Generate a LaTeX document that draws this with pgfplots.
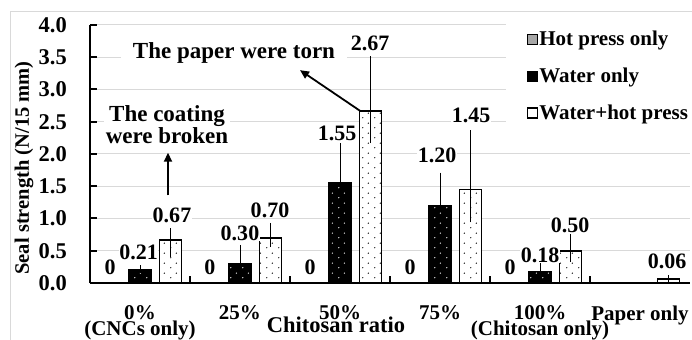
\documentclass[border=0pt]{standalone}
\usepackage{fontspec}
\setmainfont{Liberation Serif}
\usepackage{pgfplots}
\pgfplotsset{compat=1.18}
\usetikzlibrary{patterns,arrows.meta}
\pgfdeclarepatternformonly{sparsedots}{\pgfqpoint{0bp}{0bp}}{\pgfqpoint{12bp}{10bp}}{\pgfqpoint{12bp}{10bp}}{%
 \pgfpathcircle{\pgfqpoint{3bp}{2.5bp}}{0.75bp}%
 \pgfpathcircle{\pgfqpoint{9bp}{7.5bp}}{0.75bp}%
 \pgfusepath{fill}}
\newcommand\cf{\bfseries\fontsize{21bp}{18bp}\selectfont}
\newcommand\kf{\bfseries\fontsize{21bp}{18bp}\selectfont}
\newcommand\tf{\bfseries\fontsize{22.5bp}{18bp}\selectfont}
\newcommand\vf{\bfseries\fontsize{22bp}{18bp}\selectfont}
\newcommand\af{\bfseries\fontsize{23bp}{16.5bp}\selectfont}
\newcommand\yf{\bfseries\fontsize{20.5bp}{18bp}\selectfont}
\newcommand\xf{\bfseries\fontsize{22.5bp}{18bp}\selectfont}
\newcommand\twoline[2]{\setbox0\hbox{#1}\rlap{\hbox to \wd0{\hss\raisebox{-16bp}[0pt][0pt]{#2}\hss}}\box0}
\definecolor{gridc}{RGB}{217,217,217}
\definecolor{hotp}{RGB}{166,166,166}
\begin{document}
\begin{tikzpicture}
\useasboundingbox (0,0) rectangle (692bp,340bp);
\draw[gridc, line width=1bp] (10bp,-10bp) rectangle (710bp,328bp);
\begin{axis}[
 at={(90bp,57bp)}, anchor=south west,
 scale only axis, width=600bp, height=258bp,
 xmin=-0.5, xmax=5.5, ymin=0, ymax=4,
 clip=false,
 axis x line*=bottom, axis y line*=left,
 axis line style={line width=2bp, black},
 tick align=inside, major tick length=6.5bp,
 tick style={line width=2bp, black},
 xtick={0.5,1.5,2.5,3.5,4.5}, xticklabels={},
 extra x ticks={0,1,2,3,4,5},
 extra x tick labels={{\twoline{0\%}{(CNCs only)}},{25\%},{50\%},{75\%},{\twoline{100\%}{(Chitosan only)}},{Paper only}},
 extra x tick style={tick style={draw=none}},
 ytick={0,0.5,1,1.5,2,2.5,3,3.5,4},
 yticklabels={0.0,0.5,1.0,1.5,2.0,2.5,3.0,3.5,4.0},
 ymajorgrids, grid style={gridc, line width=1bp},
 xticklabel style={font=\kf, anchor=north, inner sep=0bp, yshift=-22.5bp},
 yticklabel style={font=\tf, anchor=east, inner sep=0bp, xshift=-23bp},
 ylabel={Seal strength (N/15 mm)},
 ylabel style={font=\yf, at={(axis description cs:-0.11,0.446)}, anchor=center},
 xlabel={Chitosan ratio},
 xlabel style={font=\xf, at={(axis description cs:0.41,-0.163)}, anchor=center},
 legend image code/.code={\draw[#1] (0bp,-5bp) rectangle (10bp,5bp);},
 legend style={at={(axis description cs:0.693,1.005)}, anchor=north west, draw=none, fill=white,
   inner xsep=21bp, inner ysep=6bp, row sep=19bp, font=\cf, nodes={inner sep=1bp}},
 legend cell align=left,
]
% Water only
\addplot[ybar, bar width=0.22, bar shift=0pt, fill=black, draw=black, line width=1.5bp,
  postaction={pattern=sparsedots, pattern color=white}, forget plot,
  error bars/.cd, y dir=plus, y explicit,
  error bar style={line width=1bp, black},
  error mark options={black, line width=1bp, mark size=4bp}]
coordinates {
 (0,0.21) += (0,0.0)
 (1,0.30) += (0,0.23)
 (2,1.55) += (0,0.56)
 (3,1.20) += (0,0.45)
 (4,0.18) += (0,0.08)
};
% Water + hot press
\addplot[ybar, bar width=0.22, bar shift=0pt, fill=white, draw=black, line width=1.8bp,
  postaction={pattern=sparsedots, pattern color=black}, forget plot,
  error bars/.cd, y dir=both, y explicit,
  error bar style={line width=1bp, black},
  error mark options={black, line width=1bp, mark size=4bp}]
coordinates {
 (0.305,0.67) += (0,0.12) -= (0,0.20)
 (1.305,0.70) += (0,0.17) -= (0,0.08)
 (2.305,2.67) += (0,0.78) -= (0,0.44)
 (3.305,1.45) += (0,0.86) -= (0,0.45)
 (4.305,0.50) += (0,0.20) -= (0,0.11)
 (5.285,0.06) += (0,0.0) -= (0,0.0)
};
% value labels
\addplot[draw=none, mark=none, forget plot, nodes near coords, point meta=explicit symbolic,
  every node near coord/.style={anchor=center, fill=white, inner sep=0.5bp, font=\vf}]
coordinates {
 (-0.3,0.248) [0] (-0.015,0.48) [0.21] (0.32,1.054) [0.67]
 (0.7,0.248) [0] (1.0,0.775) [0.30] (1.3,1.13) [0.70]
 (1.7,0.248) [0] (1.97,2.326) [1.55] (2.3,3.72) [2.67]
 (2.7,0.248) [0] (2.97,1.985) [1.20] (3.31,2.605) [1.45]
 (3.7,0.248) [0] (4.0,0.434) [0.18] (4.3,0.90) [0.50]
 (5.27,0.341) [0.06]
};
\addlegendimage{fill=hotp, draw=none}
\addlegendentry{Hot press only}
\addlegendimage{fill=black, draw=black}
\addlegendentry{Water only}
\addlegendimage{fill=white, draw=black, line width=1.3bp}
\addlegendentry{Water+hot press}
% annotations
\node[fill=white, align=center, font=\af, inner xsep=2bp, inner ysep=1bp] at (axis cs:0.27,2.45) {The coating\\were broken};
\draw[line width=1.8bp, -{Triangle[length=9bp,width=8bp]}] (axis cs:0.28,1.36) -- (axis cs:0.28,2.02);
\node[fill=white, font=\af, inner xsep=12bp, inner ysep=2bp] at (axis cs:0.94,3.57) {The paper were torn};
\draw[line width=1.8bp, -{Triangle[length=9bp,width=8bp]}] (axis cs:2.2,2.67) -- (axis cs:1.6,3.30);
\end{axis}
\end{tikzpicture}
\end{document}
